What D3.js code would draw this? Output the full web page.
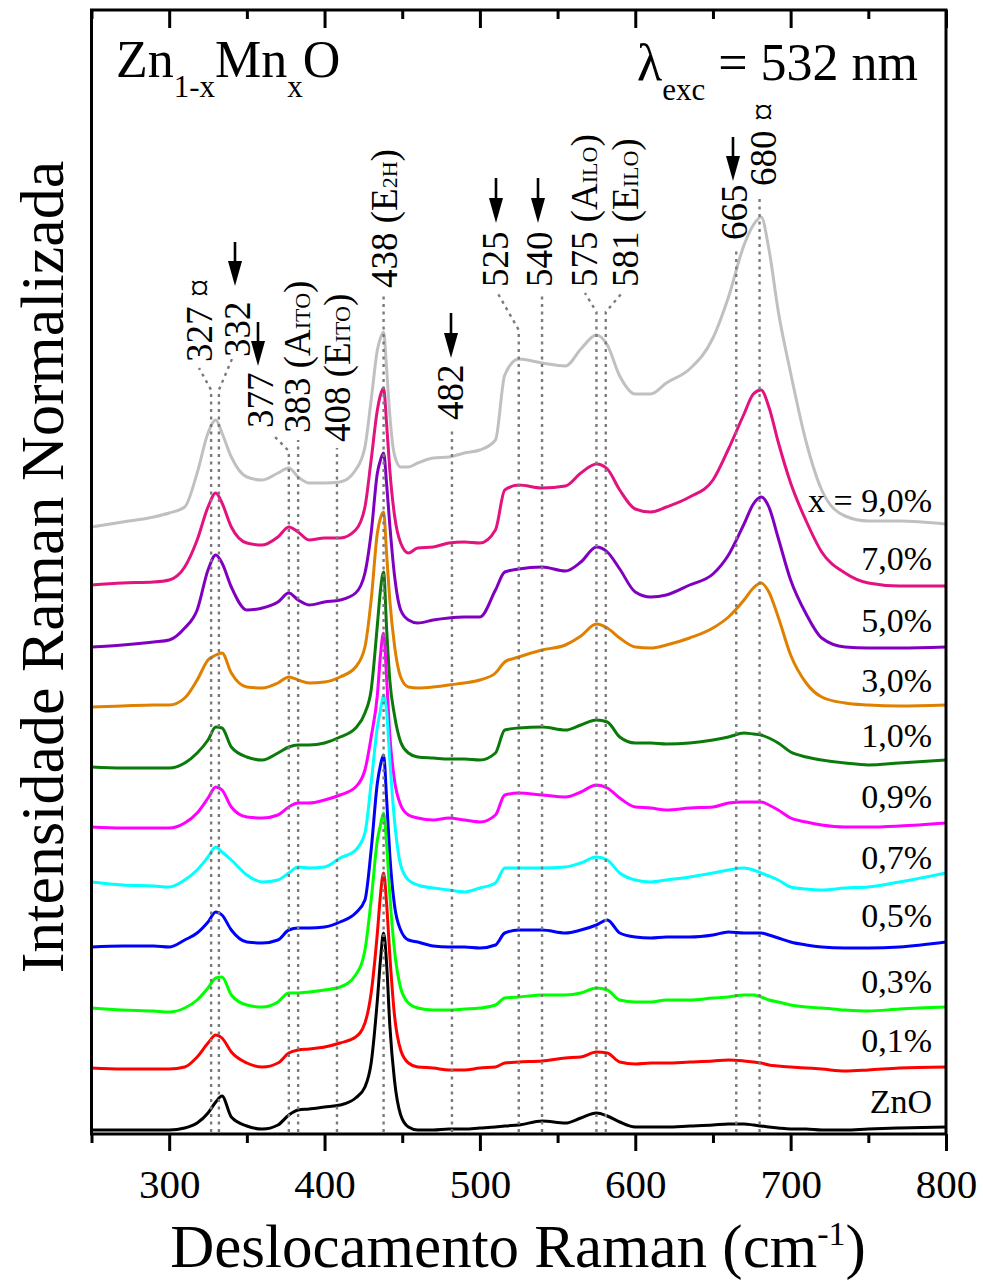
<!DOCTYPE html>
<html>
<head>
<meta charset="utf-8">
<script src="https://cdn.jsdelivr.net/npm/d3@7"></script>
<style>
    body { margin: 0; background: #fff; }
    svg { display: block; }
    text { font-family: "Liberation Serif", "Times New Roman", serif; fill: #000; }
</style>
</head>
<body>
<div id="chart"></div>
<script>
// Raman shift grid (cm-1)
var wavenumbers = [250, 270, 290, 300, 310, 318, 325, 330, 334, 340,
    350, 360, 370, 377, 383, 390, 400, 410, 420, 426,
    430, 434, 436, 438, 440, 442, 445, 449, 454, 460,
    470, 480, 490, 500, 510, 516, 525, 540, 555, 565,
    575, 582, 590, 600, 610, 620, 635, 650, 660, 670,
    676, 681, 686, 692, 700, 710, 720, 735, 750, 770, 800];

// normalized intensity (stacked, a.u.)
var sZnO = [5, 5, 5, 5, 7, 12, 22, 33, 39, 18, 9, 6, 10, 20, 25, 26, 28, 30, 37, 48,
    72, 135, 175, 202, 170, 110, 55, 20, 8, 5, 5, 6, 6, 7, 8, 9, 10, 14, 12, 17,
    22, 19, 13, 8, 8, 8, 9, 10, 11, 11, 10, 9, 8, 7, 6, 6, 5, 5, 6, 7, 8];
var s01 = [67, 66, 66, 66, 68, 78, 92, 100, 97, 83, 72, 68, 72, 82, 85, 86, 88, 92, 98, 112,
    142, 202, 240, 262, 230, 180, 120, 85, 72, 68, 67, 65, 65, 67, 68, 72, 73, 74, 77, 78,
    83, 82, 73, 71, 72, 72, 73, 74, 75, 74, 73, 72, 70, 69, 68, 67, 66, 64, 65, 67, 68];
var s03 = [127, 125, 124, 123, 127, 135, 147, 157, 158, 140, 130, 128, 133, 142, 142, 143, 145, 148, 160, 185,
    235, 295, 310, 322, 290, 240, 185, 147, 132, 127, 125, 125, 126, 127, 130, 137, 138, 140, 140, 142,
    147, 145, 135, 133, 133, 135, 135, 137, 138, 140, 140, 138, 135, 133, 130, 128, 127, 125, 124, 126, 128];
var s05 = [188, 189, 189, 188, 195, 202, 213, 223, 220, 205, 193, 192, 195, 205, 207, 207, 208, 213, 222, 235,
    285, 352, 370, 380, 335, 280, 230, 205, 195, 193, 189, 188, 188, 187, 190, 202, 205, 205, 202, 205,
    210, 215, 202, 198, 197, 198, 198, 200, 203, 202, 202, 202, 200, 197, 193, 190, 188, 187, 187, 188, 193];
var s07 = [253, 250, 249, 248, 255, 265, 278, 288, 283, 275, 260, 253, 255, 262, 268, 267, 268, 277, 285, 302,
    352, 408, 425, 440, 423, 375, 315, 270, 255, 250, 247, 245, 243, 247, 252, 267, 267, 267, 268, 272,
    278, 275, 262, 255, 253, 255, 258, 262, 265, 267, 265, 262, 259, 255, 248, 246, 245, 247, 248, 253, 262];
var s09 = [308, 307, 307, 307, 312, 322, 337, 348, 345, 328, 318, 317, 320, 328, 332, 332, 335, 340, 348, 365,
    398, 440, 480, 502, 455, 400, 355, 330, 320, 317, 315, 317, 315, 313, 320, 340, 342, 340, 338, 343,
    350, 347, 337, 328, 327, 325, 327, 328, 332, 333, 333, 333, 330, 325, 317, 313, 310, 308, 308, 309, 312];
var s10 = [368, 367, 367, 367, 372, 382, 395, 408, 407, 388, 378, 375, 382, 388, 390, 390, 392, 398, 407, 422,
    445, 510, 545, 563, 505, 455, 420, 393, 382, 378, 377, 376, 376, 375, 382, 405, 407, 408, 405, 410,
    415, 413, 398, 392, 392, 391, 392, 395, 398, 402, 401, 400, 397, 392, 383, 378, 375, 372, 370, 372, 375];
var s30 = [428, 429, 430, 430, 437, 455, 475, 480, 482, 462, 448, 447, 452, 458, 455, 452, 453, 458, 468, 488,
    535, 602, 617, 623, 580, 535, 490, 458, 448, 447, 448, 450, 452, 455, 462, 473, 478, 485, 490, 499,
    511, 507, 497, 488, 487, 490, 497, 507, 518, 535, 547, 552, 543, 518, 480, 452, 438, 432, 430, 429, 430];
var s50 = [488, 490, 493, 495, 507, 525, 565, 580, 572, 548, 525, 527, 533, 542, 535, 530, 533, 535, 542, 562,
    602, 662, 675, 682, 650, 610, 560, 525, 515, 512, 515, 517, 518, 518, 545, 563, 566, 568, 564, 573,
    588, 583, 566, 543, 538, 540, 550, 561, 580, 611, 631, 638, 628, 597, 555, 521, 497, 488, 487, 487, 488];
var s70 = [550, 552, 553, 555, 568, 595, 628, 642, 632, 608, 592, 590, 598, 608, 603, 595, 597, 597, 605, 628,
    675, 725, 740, 747, 710, 665, 620, 592, 582, 587, 588, 592, 593, 592, 605, 645, 650, 647, 649, 662,
    671, 666, 645, 626, 623, 628, 638, 655, 686, 721, 741, 745, 728, 693, 652, 614, 583, 562, 552, 549, 549];
var s90 = [608, 613, 618, 622, 628, 662, 702, 715, 702, 678, 658, 655, 662, 667, 658, 652, 652, 653, 665, 688,
    735, 785, 797, 803, 765, 720, 680, 668, 668, 672, 677, 678, 682, 685, 695, 760, 776, 772, 769, 786,
    800, 790, 759, 741, 741, 752, 766, 797, 838, 890, 910, 918, 886, 824, 762, 693, 645, 619, 614, 614, 611];

// drawn from top (first) to bottom (last, on top)
var seriesValues = [s90, s70, s50, s30, s10, s09, s07, s05, s03, s01, sZnO];
var seriesNames = ["x = 9,0%", "7,0%", "5,0%", "3,0%", "1,0%", "0,9%", "0,7%", "0,5%", "0,3%", "0,1%", "ZnO"];
var seriesColors = ["#c0c0c0", "#e2127f", "#8000c0", "#e08000", "#0a7a0a", "#ff00ff", "#00ffff", "#0000ff", "#00ff00", "#ff0000", "#000000"];

var xTicks = [300, 400, 500, 600, 700, 800];
var xMinorTicks = [250, 350, 450, 550, 650, 750];

// assigned peaks (cm-1) and their labels: [text, small part, closing]
var peakPositions = [327, 332, 377, 383, 408, 438, 482, 525, 540, 575, 581, 665, 680];
var peakLabels = [["327 \u00a4"], ["332"], ["377"], ["383 (A", "ITO", ")"], ["408 (E", "ITO", ")"],
    ["438 (E", "2H", ")"], ["482"], ["525"], ["540"], ["575 (A", "ILO", ")"], ["581 (E", "ILO", ")"],
    ["665"], ["680 \u00a4"]];
var arrowPeaks = [332, 377, 482, 525, 540, 665];

// annotation layout (pixels): label baseline x, label bottom, top of dotted line, bent end
var labelLayout = [
    {tx: 212, tb: 362, top: 390, ex: 199, ey: 368},
    {tx: 250, tb: 357, top: 390, ex: 232, ey: 359},
    {tx: 273, tb: 428, top: 451, ex: 274, ey: 436},
    {tx: 310, tb: 433, top: 440},
    {tx: 350, tb: 442, top: 448},
    {tx: 397, tb: 288, top: 296},
    {tx: 463, tb: 420, top: 427},
    {tx: 508, tb: 287, top: 330, ex: 497, ey: 292},
    {tx: 552, tb: 287, top: 295},
    {tx: 597, tb: 287, top: 312, ex: 585, ey: 293},
    {tx: 638, tb: 287, top: 312, ex: 622, ey: 293},
    {tx: 747, tb: 240, top: 248},
    {tx: 776, tb: 186, top: 195}
];
var arrowLayout = [
    {x: 235, y0: 242, y1: 286},
    {x: 258, y0: 322, y1: 366},
    {x: 451, y0: 313, y1: 358},
    {x: 496, y0: 178, y1: 223},
    {x: 538, y0: 178, y1: 223},
    {x: 733, y0: 137, y1: 181}
];
var nameBaselines = [512, 570, 632, 692, 747, 808, 869, 927, 993, 1052, 1113];

var width = 983;
var height = 1282;
var plot = {left: 91.5, right: 946, top: 10, bottom: 1134};

var svg = d3.select("#chart").append("svg")
    .attr("width", width)
    .attr("height", height);

var x = d3.scaleLinear()
    .domain([250, 800])
    .range([plot.left, plot.right]);

var y = d3.scaleLinear()
    .domain([0, 1125])
    .range([1135, 10]);

// spectra
var line = d3.line()
    .x(function (d, i) { return x(wavenumbers[i]); })
    .y(function (d) { return y(d); })
    .curve(d3.curveMonotoneX);

svg.append("clipPath").attr("id", "clip")
    .append("rect")
    .attr("x", plot.left).attr("y", plot.top)
    .attr("width", plot.right - plot.left).attr("height", plot.bottom - plot.top);

svg.append("g")
    .attr("clip-path", "url(#clip)")
    .selectAll("path")
    .data(seriesValues)
    .enter()
    .append("path")
    .attr("d", line)
    .attr("fill", "none")
    .attr("stroke", function (d, i) { return seriesColors[i]; })
    .attr("stroke-width", 3)
    .attr("stroke-linejoin", "round");

// dotted guide lines (over the curves)
var guides = svg.append("g")
    .attr("fill", "none")
    .attr("stroke", "#7a7a7a")
    .attr("stroke-width", 2.4)
    .attr("stroke-dasharray", "3,4.5");

peakPositions.forEach(function (p, i) {
    var lay = labelLayout[i];
    var pts = [[x(p), plot.bottom - 2], [x(p), lay.top]];
    if (lay.ex !== undefined) pts.push([lay.ex, lay.ey]);
    guides.append("path").attr("d", d3.line()(pts));
});

// peak labels, rotated
var labelGroup = svg.append("g");
peakPositions.forEach(function (p, i) {
    var lay = labelLayout[i];
    var parts = peakLabels[i];
    var t = labelGroup.append("text")
        .attr("transform", "translate(" + lay.tx + "," + lay.tb + ") rotate(-90)")
        .style("font-size", "37px");
    t.append("tspan").text(parts[0]);
    if (parts.length > 1) {
        t.append("tspan").style("font-size", "22px").text(parts[1]);
        t.append("tspan").text(parts[2]);
    }
});

// arrows
var arrowGroup = svg.append("g");
arrowPeaks.forEach(function (p, i) {
    var a = arrowLayout[i];
    arrowGroup.append("line")
        .attr("x1", a.x).attr("x2", a.x)
        .attr("y1", a.y0).attr("y2", a.y1 - 20)
        .attr("stroke", "#000")
        .attr("stroke-width", 2.6);
    arrowGroup.append("path")
        .attr("d", "M" + (a.x - 7) + "," + (a.y1 - 25) + "L" + (a.x + 7) + "," + (a.y1 - 25) + "L" + a.x + "," + a.y1 + "Z")
        .attr("fill", "#000");
});

// sample names
svg.append("g")
    .selectAll("text")
    .data(seriesNames)
    .enter()
    .append("text")
    .attr("x", 932)
    .attr("y", function (d, i) { return nameBaselines[i]; })
    .attr("text-anchor", "end")
    .style("font-size", "34px")
    .text(function (d) { return d; });

// frame
svg.append("rect")
    .attr("x", plot.left).attr("y", plot.top)
    .attr("width", plot.right - plot.left)
    .attr("height", plot.bottom - plot.top)
    .attr("fill", "none")
    .attr("stroke", "#000")
    .attr("stroke-width", 3);

// bottom axis: ticks outward
var bottomAxis = svg.append("g")
    .attr("class", "x axis")
    .attr("transform", "translate(0," + plot.bottom + ")")
    .call(d3.axisBottom(x).tickValues(xTicks).tickSize(17).tickPadding(20).tickFormat(d3.format("d")));
bottomAxis.select(".domain").remove();
bottomAxis.selectAll(".tick line").attr("stroke", "#000").attr("stroke-width", 3);
bottomAxis.selectAll(".tick text")
    .style("font-family", "'Liberation Serif', 'Times New Roman', serif")
    .style("font-size", "41px")
    .attr("y", 64)
    .attr("dy", 0);

var bottomMinor = svg.append("g")
    .attr("transform", "translate(0," + plot.bottom + ")")
    .call(d3.axisBottom(x).tickValues(xMinorTicks).tickSize(9).tickFormat(""));
bottomMinor.select(".domain").remove();
bottomMinor.selectAll(".tick line").attr("stroke", "#000").attr("stroke-width", 3);

// top axis: ticks inward
var topAxis = svg.append("g")
    .attr("transform", "translate(0," + plot.top + ")")
    .call(d3.axisBottom(x).tickValues(xTicks).tickSize(18).tickFormat(""));
topAxis.select(".domain").remove();
topAxis.selectAll(".tick line").attr("stroke", "#000").attr("stroke-width", 3);

var topMinor = svg.append("g")
    .attr("transform", "translate(0," + plot.top + ")")
    .call(d3.axisBottom(x).tickValues(xMinorTicks).tickSize(9).tickFormat(""));
topMinor.select(".domain").remove();
topMinor.selectAll(".tick line").attr("stroke", "#000").attr("stroke-width", 3);

// axis titles
var xTitle = svg.append("text")
    .attr("x", 518)
    .attr("y", 1267)
    .attr("text-anchor", "middle")
    .style("font-size", "61px");
xTitle.append("tspan").text("Deslocamento Raman (cm");
xTitle.append("tspan").attr("dy", -22).style("font-size", "34px").text("-1");
xTitle.append("tspan").attr("dy", 22).text(")");

svg.append("text")
    .attr("transform", "translate(63,567) rotate(-90)")
    .attr("text-anchor", "middle")
    .style("font-size", "62px")
    .text("Intensidade Raman Normalizada");

// compound and excitation labels
var title = svg.append("text")
    .attr("x", 116)
    .attr("y", 77)
    .style("font-size", "52px");
title.append("tspan").text("Zn");
title.append("tspan").attr("dy", 20).style("font-size", "31px").text("1-x");
title.append("tspan").attr("dy", -20).text("Mn");
title.append("tspan").attr("dy", 20).style("font-size", "31px").text("x");
title.append("tspan").attr("dy", -20).text("O");

var exc = svg.append("text")
    .attr("x", 637)
    .attr("y", 80)
    .style("font-size", "52px");
exc.append("tspan").text("\u03bb");
exc.append("tspan").attr("dy", 20).style("font-size", "31px").text("exc");
exc.append("tspan").attr("dy", -20).text(" = 532 nm");
</script>
</body>
</html>
